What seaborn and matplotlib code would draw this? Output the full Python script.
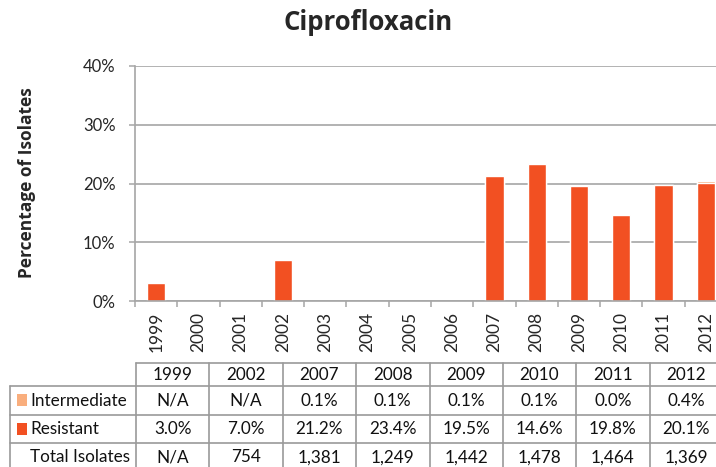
import numpy as np
import pandas as pd
import matplotlib
matplotlib.use("Agg")
import matplotlib.pyplot as plt
from matplotlib.patches import Rectangle
import seaborn as sns

# Ciprofloxacin susceptibility by year
all_years = [str(y) for y in range(1999, 2013)]
table_years = ["1999", "2002", "2007", "2008", "2009", "2010", "2011", "2012"]
intermediate_pct = [None, None, 0.1, 0.1, 0.1, 0.1, 0.0, 0.4]
resistant_pct = [3.0, 7.0, 21.2, 23.4, 19.5, 14.6, 19.8, 20.1]
total_isolates = ["N/A", "754", "1,381", "1,249", "1,442", "1,478", "1,464", "1,369"]

RESISTANT_COLOR = "#F25022"
INTERMEDIATE_COLOR = "#F9AE7D"
GRID_COLOR = "#A6A6A6"
TABLE_LINE = "#9A9A9A"

sns.set_theme(style="white")
plt.rcParams["font.family"] = ["Lato", "DejaVu Sans"]

df = pd.DataFrame({
    "year": table_years,
    "resistant": resistant_pct,
    "intermediate": [v if v is not None else 0.0 for v in intermediate_pct],
})
df["total"] = df["resistant"] + df["intermediate"]

W, H = 716, 467
fig = plt.figure(figsize=(W / 100, H / 100), dpi=100)

# plot area in pixel coordinates
left, right, top, bottom = 135, 727, 66, 301
ax = fig.add_axes([left / W, (H - bottom) / H, (right - left) / W, (bottom - top) / H])

# stacked bars: full height in the intermediate colour, resistant part drawn over it
sns.barplot(data=df, x="year", y="total", order=all_years, color=INTERMEDIATE_COLOR,
            width=0.43, saturation=1, ax=ax, errorbar=None)
sns.barplot(data=df, x="year", y="resistant", order=all_years, color=RESISTANT_COLOR,
            width=0.43, saturation=1, ax=ax, errorbar=None)

ax.set_xlim(-0.5, len(all_years) - 0.5)
ax.set_ylim(0, 40)
ax.set_yticks([0, 10, 20, 30, 40])
ax.set_yticklabels([f"{v}%" for v in [0, 10, 20, 30, 40]], fontsize=12)
ax.yaxis.grid(True, color=GRID_COLOR, linewidth=1.2)
ax.set_axisbelow(True)
ax.tick_params(axis="y", which="major", direction="out", length=4, width=1.1,
               color=GRID_COLOR, pad=10, left=True)

ax.set_xticks(range(len(all_years)))
ax.set_xticklabels(all_years, rotation=90, fontsize=12.5)
ax.set_xticks(np.arange(-0.5, len(all_years), 1.0), minor=True)
ax.tick_params(axis="x", which="major", length=0, pad=8)
ax.tick_params(axis="x", which="minor", direction="out", length=4, width=1.1,
               color=GRID_COLOR, bottom=True)

for side in ["top", "right"]:
    ax.spines[side].set_visible(False)
for side in ["left", "bottom"]:
    ax.spines[side].set_color(GRID_COLOR)
    ax.spines[side].set_linewidth(1.2)

ax.set_xlabel("")
ax.set_ylabel("")

fig.text(368 / W, 1 - 22 / H, "Ciprofloxacin", ha="center", va="center",
         fontsize=18.5, fontweight="bold", family=["Open Sans", "DejaVu Sans"])
fig.text(27 / W, 1 - 183 / H, "Percentage of Isolates", ha="center", va="center",
         rotation=90, fontsize=12.5, fontweight="bold", family=["Open Sans", "DejaVu Sans"])

# data table below the chart, drawn in pixel coordinates
tab = fig.add_axes([0, 0, 1, 1])
tab.set_xlim(0, W)
tab.set_ylim(H, 0)
tab.axis("off")

col_left = 136
col_w = (723 - 136) / len(table_years)
col_edges = [col_left + i * col_w for i in range(len(table_years) + 1)]
row_edges = [363, 386, 415, 443, 472]
label_left = 10
lw = 1.2

# horizontal rules
tab.plot([col_left, col_edges[-1]], [row_edges[0]] * 2, color=TABLE_LINE, lw=lw)
for y in row_edges[1:]:
    tab.plot([label_left, col_edges[-1]], [y, y], color=TABLE_LINE, lw=lw)
# vertical rules
tab.plot([label_left, label_left], [row_edges[1], row_edges[-1]], color=TABLE_LINE, lw=lw)
for x in col_edges:
    tab.plot([x, x], [row_edges[0], row_edges[-1]], color=TABLE_LINE, lw=lw)

fmt_pct = lambda v: "N/A" if v is None else f"{v:.1f}%"
rows = [
    table_years,
    [fmt_pct(v) for v in intermediate_pct],
    [fmt_pct(v) for v in resistant_pct],
    total_isolates,
]
for r, values in enumerate(rows):
    yc = (row_edges[r] + row_edges[r + 1]) / 2
    for c, txt in enumerate(values):
        xc = (col_edges[c] + col_edges[c + 1]) / 2
        tab.text(xc, yc, txt, ha="center", va="center", fontsize=12.3, color="#111111")

labels = [("Intermediate", INTERMEDIATE_COLOR), ("Resistant", RESISTANT_COLOR), ("Total Isolates", None)]
for i, (name, colr) in enumerate(labels):
    yc = (row_edges[i + 1] + row_edges[i + 2]) / 2
    if colr is not None:
        tab.add_patch(Rectangle((17, yc - 6.5), 10, 12, color=colr, lw=0))
    tab.text(30, yc, name, ha="left", va="center", fontsize=12.3, color="#111111")

fig.savefig("out.png", dpi=100)
